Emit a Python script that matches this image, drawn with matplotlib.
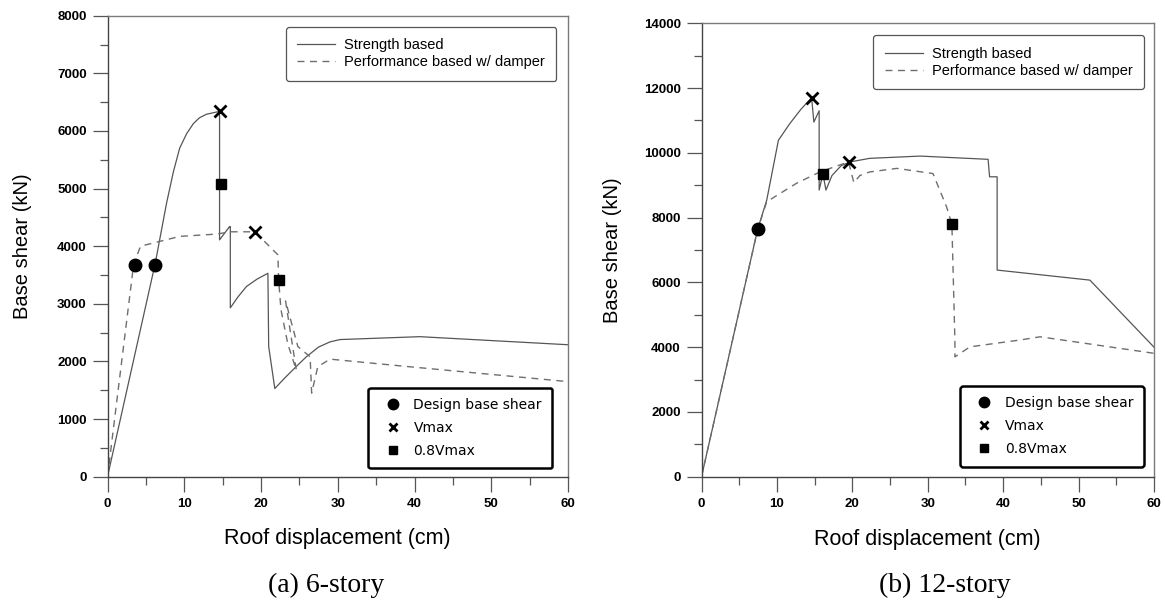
import matplotlib
matplotlib.use("Agg")
import matplotlib.pyplot as plt
from matplotlib.lines import Line2D
from matplotlib.ticker import MultipleLocator

# (a) 6-story
a_str_x = [0, 6.2, 7.7, 8.6, 9.4, 10.3, 11.2, 12.0, 12.9, 14.6, 14.6, 15.9, 16.0, 16.0, 17.0, 18.1, 19.5, 20.9,
           21.0, 21.8, 23.0, 24.5, 25.9, 27.5, 29.0, 30.3, 40.7, 60]
a_str_y = [0, 3690, 4750, 5300, 5700, 5950, 6130, 6230, 6290, 6340, 4110, 4340, 4340, 2930, 3120, 3300, 3430,
           3530, 2260, 1530, 1700, 1900, 2080, 2250, 2340, 2380, 2430, 2290]
a_perf_x = [0, 3.4, 4.3, 9.4, 14.2, 16.0, 19.2, 22.2, 22.3, 22.6, 23.5, 24.6, 23.2, 24.8, 26.4, 26.6, 27.4,
            29.0, 40, 60]
a_perf_y = [0, 3680, 4000, 4170, 4210, 4250, 4250, 3850, 3410, 2900, 2300, 1850, 3050, 2260, 2080, 1450, 1910,
            2040, 1900, 1650]
a_design_x = [3.6, 6.2]
a_design_y = [3680, 3680]
a_vmax_x = [14.6, 19.2]
a_vmax_y = [6350, 4250]
a_v08_x = [14.8, 22.3]
a_v08_y = [5080, 3410]

# (b) 12-story
b_str_x = [0, 7.45, 8.65, 10.2, 11.7, 13.2, 14.6, 14.9, 15.6, 15.6, 16.1, 16.5, 17.3, 18.5, 19.7, 22.3, 29,
           38, 38.2, 39.2, 39.2, 51.5, 60]
b_str_y = [0, 7640, 8540, 10390, 10900, 11350, 11700, 10950, 11300, 8850, 9350, 8850, 9300, 9600, 9720, 9830,
           9900, 9800, 9260, 9260, 6380, 6070, 4000]
b_perf_x = [0, 7.45, 8.65, 12.6, 15.7, 19.5, 20.2, 21.0, 22.3, 25.9, 30.7, 31.5, 32.5, 33.2, 33.6, 33.6, 35.6,
            42.2, 44.9, 60]
b_perf_y = [0, 7640, 8490, 9060, 9410, 9720, 9080, 9300, 9410, 9520, 9360, 8900, 8330, 7800, 4220, 3700, 4010,
            4220, 4320, 3810]
b_design_x = [7.45]
b_design_y = [7640]
b_vmax_x = [14.6, 19.5]
b_vmax_y = [11700, 9720]
b_v08_x = [16.1, 33.2]
b_v08_y = [9360, 7800]

W, H = 1165, 607
fig = plt.figure(figsize=(W / 100, H / 100), dpi=100)
ax1 = fig.add_axes([107.5 / W, 1 - 476.7 / H, 460.5 / W, 461 / H])
ax2 = fig.add_axes([701.5 / W, 1 - 476.7 / H, 452.5 / W, 453.4 / H])

tickfont = dict(family=["Liberation Sans", "DejaVu Sans"], weight="bold", size=9.5)


def draw(ax, sx, sy, px, py, dx, dy, vx, vy, qx, qy, ymax, ymaj, ymin, top_anchor, bot_anchor):
    ax.plot(sx, sy, color="#555555", lw=0.9, ls="-")
    ax.plot(px, py, color="#6e6e6e", lw=1.0, ls=(0, (5, 4)))
    ax.plot(dx, dy, "o", color="black", ms=9, ls="none")
    ax.plot(vx, vy, "x", color="black", ms=8, mew=2, ls="none")
    ax.plot(qx, qy, "s", color="black", ms=6.5, ls="none")
    ax.set_xlim(0, 60)
    ax.set_ylim(0, ymax)
    ax.xaxis.set_major_locator(MultipleLocator(10))
    ax.xaxis.set_minor_locator(MultipleLocator(5))
    ax.yaxis.set_major_locator(MultipleLocator(ymaj))
    ax.yaxis.set_minor_locator(MultipleLocator(ymin))
    ax.tick_params(which="major", direction="out", length=11, width=0.9, color="#555555", pad=4)
    ax.tick_params(which="minor", direction="out", length=5.5, width=0.9, color="#555555")
    for lab in ax.get_xticklabels() + ax.get_yticklabels():
        lab.set_fontproperties(tickfont)
    for sp in ax.spines.values():
        sp.set_color("#7a7a7a")
        sp.set_linewidth(1.0)
    ax.spines["left"].set_color("#444444")
    ax.spines["bottom"].set_color("#444444")
    ax.set_xlabel("Roof displacement (cm)", family="Liberation Sans", fontsize=15.5)
    ax.set_ylabel("Base shear (kN)", family="Liberation Sans", fontsize=14.5)

    top = ax.legend(handles=[Line2D([], [], color="#555555", lw=0.9),
                             Line2D([], [], color="#6e6e6e", lw=1.0, ls=(0, (5, 4)))],
                    labels=["Strength based", "Performance based w/ damper"],
                    loc="upper right", bbox_to_anchor=top_anchor, borderaxespad=0, fancybox=True,
                    edgecolor="#555555", framealpha=1, handlelength=2.6, handletextpad=0.6,
                    labelspacing=0.2, borderpad=0.8, prop=dict(family="Liberation Sans", size=10.5))
    top.get_frame().set_linewidth(0.9)
    ax.add_artist(top)
    bot = ax.legend(handles=[Line2D([], [], marker="o", color="black", ms=7.5, ls="none"),
                             Line2D([], [], marker="x", color="black", ms=6, mew=2, ls="none"),
                             Line2D([], [], marker="s", color="black", ms=6, ls="none")],
                    labels=["Design base shear", "Vmax", "0.8Vmax"],
                    loc="lower right", bbox_to_anchor=bot_anchor, borderaxespad=0, fancybox=True,
                    edgecolor="black", framealpha=1, handletextpad=0.5, labelspacing=0.65,
                    borderpad=0.75, prop=dict(family="DejaVu Sans", size=10))
    bot.get_frame().set_linewidth(1.8)


draw(ax1, a_str_x, a_str_y, a_perf_x, a_perf_y, a_design_x, a_design_y, a_vmax_x, a_vmax_y,
     a_v08_x, a_v08_y, 8000, 1000, 500, (0.975, 0.976), (0.966, 0.018))
draw(ax2, b_str_x, b_str_y, b_perf_x, b_perf_y, b_design_x, b_design_y, b_vmax_x, b_vmax_y,
     b_v08_x, b_v08_y, 14000, 2000, 1000, (0.978, 0.974), (0.978, 0.022))

ax1.yaxis.set_label_coords(-0.165, 0.5)
ax2.yaxis.set_label_coords(-0.176, 0.5)
ax1.xaxis.set_label_coords(0.5, -0.112)
ax2.xaxis.set_label_coords(0.5, -0.115)

fig.text(326 / W, 1 - 585 / H, "(a) 6-story", family="Liberation Serif", fontsize=20, ha="center", va="center")
fig.text(945 / W, 1 - 585 / H, "(b) 12-story", family="Liberation Serif", fontsize=20, ha="center", va="center")

fig.savefig("out.png", dpi=100)
